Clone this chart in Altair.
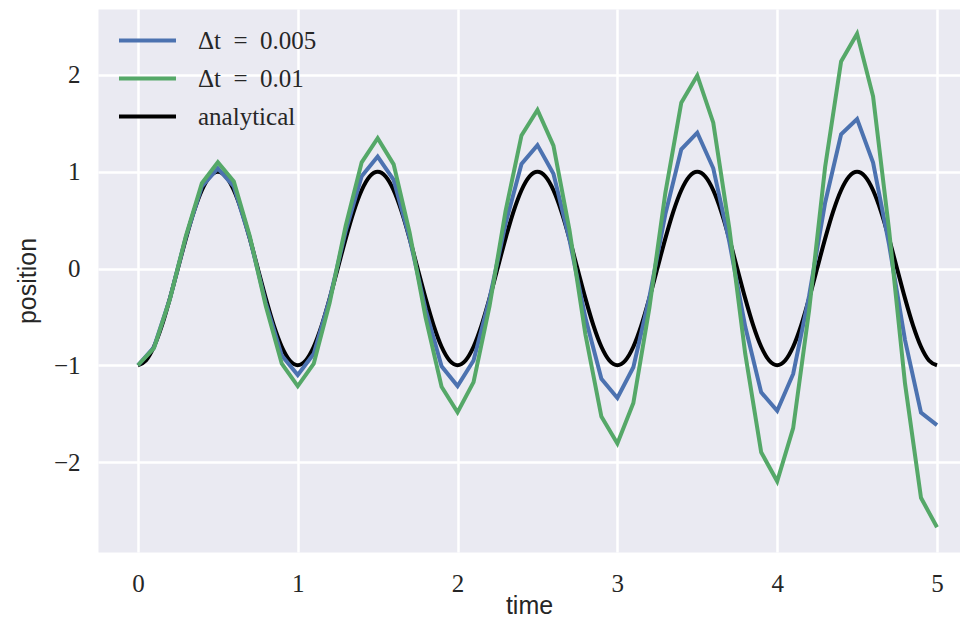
import altair as alt
import pandas as pd

# sample times of the numerical solutions (every 0.1)
time_num = [0.0, 0.1, 0.2, 0.3, 0.4, 0.5, 0.6, 0.7, 0.8, 0.9,
            1.0, 1.1, 1.2, 1.3, 1.4, 1.5, 1.6, 1.7, 1.8, 1.9,
            2.0, 2.1, 2.2, 2.3, 2.4, 2.5, 2.6, 2.7, 2.8, 2.9,
            3.0, 3.1, 3.2, 3.3, 3.4, 3.5, 3.6, 3.7, 3.8, 3.9,
            4.0, 4.1, 4.2, 4.3, 4.4, 4.5, 4.6, 4.7, 4.8, 4.9,
            5.0]

pos_dt005 = [-1.000, -0.815, -0.310, 0.326, 0.848, 1.035, 0.847, 0.312, -0.357, -0.899,
             -1.100, -0.881, -0.313, 0.388, 0.953, 1.157, 0.916, 0.313, -0.424, -1.010,
             -1.215, -0.951, -0.313, 0.461, 1.080, 1.275, 0.980, 0.300, -0.510, -1.140,
             -1.338, -1.020, -0.300, 0.560, 1.232, 1.404, 1.036, 0.280, -0.600, -1.280,
             -1.471, -1.090, -0.280, 0.680, 1.387, 1.544, 1.094, 0.250, -0.740, -1.490,
             -1.618]

pos_dt001 = [-1.000, -0.823, -0.316, 0.336, 0.882, 1.098, 0.900, 0.334, -0.387, -0.984,
             -1.215, -0.984, -0.353, 0.443, 1.097, 1.346, 1.076, 0.371, -0.508, -1.222,
             -1.486, -1.174, -0.390, 0.590, 1.375, 1.639, 1.270, 0.400, -0.680, -1.530,
             -1.809, -1.390, -0.410, 0.780, 1.714, 1.995, 1.507, 0.420, -0.880, -1.900,
             -2.199, -1.650, -0.430, 1.050, 2.140, 2.426, 1.780, 0.400, -1.190, -2.370,
             -2.674]

# analytical curve, sampled every 0.05
time_exact = [0.00, 0.05, 0.10, 0.15, 0.20, 0.25, 0.30, 0.35, 0.40, 0.45,
              0.50, 0.55, 0.60, 0.65, 0.70, 0.75, 0.80, 0.85, 0.90, 0.95,
              1.00, 1.05, 1.10, 1.15, 1.20, 1.25, 1.30, 1.35, 1.40, 1.45,
              1.50, 1.55, 1.60, 1.65, 1.70, 1.75, 1.80, 1.85, 1.90, 1.95,
              2.00, 2.05, 2.10, 2.15, 2.20, 2.25, 2.30, 2.35, 2.40, 2.45,
              2.50, 2.55, 2.60, 2.65, 2.70, 2.75, 2.80, 2.85, 2.90, 2.95,
              3.00, 3.05, 3.10, 3.15, 3.20, 3.25, 3.30, 3.35, 3.40, 3.45,
              3.50, 3.55, 3.60, 3.65, 3.70, 3.75, 3.80, 3.85, 3.90, 3.95,
              4.00, 4.05, 4.10, 4.15, 4.20, 4.25, 4.30, 4.35, 4.40, 4.45,
              4.50, 4.55, 4.60, 4.65, 4.70, 4.75, 4.80, 4.85, 4.90, 4.95,
              5.00]

pos_exact = [-1.000, -0.951, -0.809, -0.588, -0.309, 0.000, 0.309, 0.588, 0.809, 0.951,
             1.000, 0.951, 0.809, 0.588, 0.309, 0.000, -0.309, -0.588, -0.809, -0.951,
             -1.000, -0.951, -0.809, -0.588, -0.309, 0.000, 0.309, 0.588, 0.809, 0.951,
             1.000, 0.951, 0.809, 0.588, 0.309, 0.000, -0.309, -0.588, -0.809, -0.951,
             -1.000, -0.951, -0.809, -0.588, -0.309, 0.000, 0.309, 0.588, 0.809, 0.951,
             1.000, 0.951, 0.809, 0.588, 0.309, 0.000, -0.309, -0.588, -0.809, -0.951,
             -1.000, -0.951, -0.809, -0.588, -0.309, 0.000, 0.309, 0.588, 0.809, 0.951,
             1.000, 0.951, 0.809, 0.588, 0.309, 0.000, -0.309, -0.588, -0.809, -0.951,
             -1.000, -0.951, -0.809, -0.588, -0.309, 0.000, 0.309, 0.588, 0.809, 0.951,
             1.000, 0.951, 0.809, 0.588, 0.309, 0.000, -0.309, -0.588, -0.809, -0.951,
             -1.000]

series_labels = ["\u0394t\u2002=\u20020.005", "\u0394t\u2002=\u20020.01", "analytical"]
series_colors = ["#4C72B0", "#55A868", "#000000"]
x_ticks = [0, 1, 2, 3, 4, 5]
y_ticks = [-2, -1, 0, 1, 2]

df_blue = pd.DataFrame({"time": time_num, "position": pos_dt005, "series": series_labels[0]})
df_green = pd.DataFrame({"time": time_num, "position": pos_dt001, "series": series_labels[1]})
df_exact = pd.DataFrame({"time": time_exact, "position": pos_exact, "series": series_labels[2]})

x_enc = alt.X("time:Q",
              scale=alt.Scale(domain=[-0.25, 5.144], nice=False, zero=False),
              axis=alt.Axis(values=x_ticks, title="time", labelPadding=19,
                            titleY=61, titleBaseline="alphabetic"))
y_enc = alt.Y("position:Q",
              scale=alt.Scale(domain=[-2.93, 2.682], nice=False, zero=False),
              axis=alt.Axis(values=y_ticks, title="position", labelPadding=18,
                            titleX=-63, titleY=271.5, titleBaseline="alphabetic"))
color_enc = alt.Color("series:N",
                      scale=alt.Scale(domain=series_labels, range=series_colors),
                      legend=alt.Legend(title=None, orient="none", legendX=37, legendY=19,
                                        symbolType="M-3,0H3", symbolSize=361,
                                        symbolStrokeWidth=4, labelOffset=38,
                                        labelFont="Liberation Serif", labelFontSize=25,
                                        labelColor="#262626", rowPadding=12, padding=0))


def line(df, interp):
    return alt.Chart(df).mark_line(strokeWidth=4, interpolate=interp, clip=True).encode(
        x=x_enc, y=y_enc, color=color_enc)


chart = alt.layer(
    line(df_exact, "monotone"),
    line(df_blue, "linear"),
    line(df_green, "linear"),
).properties(
    width=862, height=543,
    padding={"left": 90, "top": 1, "right": 0, "bottom": 66},
    autosize=alt.AutoSizeParams(type="none"),
).configure_view(
    fill="#EAEAF2", stroke="transparent"
).configure_axis(
    domain=False, ticks=False, grid=True, gridColor="#FFFFFF", gridWidth=2.5,
    labelFont="Liberation Serif", labelFontSize=25, labelColor="#262626",
    titleFont="Liberation Sans", titleFontSize=25, titleFontWeight="normal",
    titleColor="#262626",
)

chart.save("out.html", embed_options={"renderer": "svg", "actions": False})
